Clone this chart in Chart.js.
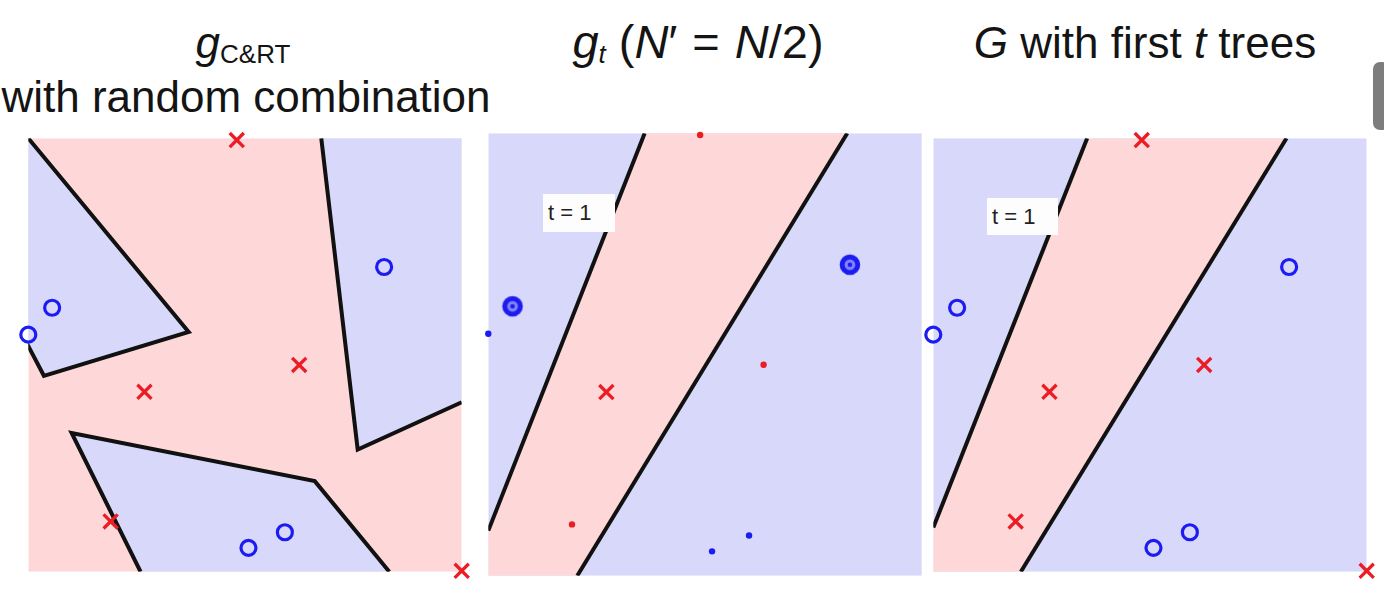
<!DOCTYPE html>
<html>
<head>
<meta charset="utf-8">
<script src="https://cdn.jsdelivr.net/npm/chart.js@4"></script>
<style>
  html, body { margin: 0; padding: 0; background: #fff; }
  body { width: 1384px; height: 596px; position: relative; overflow: hidden; }
  canvas { position: absolute; }
  .ttl {
    position: absolute; width: 600px; text-align: center; white-space: nowrap;
    font: 44px/44px "Liberation Sans", Arial, sans-serif; color: #141414;
  }
  .sub { font-size: 26px; position: relative; top: 5px; }
  .eq { margin: 0 2px; }
  .lbl {
    position: absolute; background: #fdfdfd; color: #222;
    font: 22px/38px "Liberation Sans", Arial, sans-serif; padding-left: 5px;
  }
  #bar { position: absolute; left: 1373px; top: 62px; width: 16px; height: 68px;
         border-radius: 7px; background: #7d7d7d; }
</style>
</head>
<body>
<div class="ttl" style="left:-57px;top:21px"><i>g</i><span class="sub">C&amp;RT</span></div>
<div class="ttl" style="left:-54px;top:75px">with random combination</div>
<div class="ttl" style="left:398px;top:18px;font-size:47px;line-height:47px"><i>g</i><span class="sub"><i>t</i></span> (<i>N</i>′ <span class="eq">=</span> <i>N</i>/2)</div>
<div class="ttl" style="left:845px;top:21px"><i>G</i> with first <i>t</i> trees</div>
<div id="bar"></div>

<canvas id="c1" width="460" height="460" style="left:15px;top:125px"></canvas>
<canvas id="c2" width="460" height="469" style="left:475px;top:120px"></canvas>
<canvas id="c3" width="460" height="460" style="left:920px;top:125px"></canvas>

<div class="lbl" style="left:543px;top:194px;width:67px;height:38px">t = 1</div>
<div class="lbl" style="left:987px;top:198px;width:66px;height:37px">t = 1</div>

<script>
// training points, unit square
const circleX = [0.821, 0.055, 0.000, 0.592, 0.508];
const circleY = [0.703, 0.609, 0.547, 0.091, 0.055];
const crossX = [0.481, 0.625, 0.268, 0.190, 1.000];
const crossY = [0.996, 0.477, 0.415, 0.116, 0.002];

// bootstrap copies of each point in the N/2 sample for g_t (null = not drawn)
const circleWeight = [2, 2, 0, 0, 0];
const crossWeight = [0, 0, 1, 0, null];

// C&RT with random combination: three blue pieces on pink
const cartAX = [-0.005, 0.036, 0.370, 0.000];
const cartAY = [0.530, 0.452, 0.553, 1.000];
const cartBX = [0.676, 0.760, 1.000, 1.000];
const cartBY = [1.000, 0.282, 0.391, 1.000];
const cartCX = [0.259, 0.100, 0.661, 0.833];
const cartCY = [0.000, 0.320, 0.209, 0.000];

// first tree: pink band between two cuts, blue outside
const cut1X = [0.000, 0.355];
const cut1Y = [0.102, 1.000];
const cut2X = [0.202, 0.815];
const cut2Y = [0.000, 1.000];
const bandX = [0.000, 0.355, 0.815, 0.202, 0.000];
const bandY = [0.102, 1.000, 1.000, 0.000, 0.000];

const squareX = [0, 1, 1, 0];
const squareY = [0, 0, 1, 1];

const PINK = '#fed8d9';
const LAV = '#d8d8fa';
const BLUE = '#1c1cf2';
const RED = '#ec1c24';

function pts(xs, ys) {
  return xs.map((x, i) => ({x: x, y: ys[i]}));
}

function region(xs, ys, color, order) {
  return {data: pts(xs, ys), fill: 'shape', backgroundColor: color,
          borderColor: 'rgba(0,0,0,0)', borderWidth: 0, pointRadius: 0, order: order};
}

function cut(xs, ys) {
  return {data: pts(xs, ys), fill: false, borderColor: '#111', borderWidth: 4,
          pointRadius: 0, order: 5, borderCapStyle: 'butt', borderJoinStyle: 'miter'};
}

function marks(data, style, color, radius, lw) {
  return {data: data, showLine: false, clip: false, order: 1, pointStyle: style,
          pointRadius: radius, pointBorderWidth: lw, borderWidth: lw,
          pointBorderColor: color, pointBackgroundColor: style === 'circle' && radius < 4 ? color : 'rgba(0,0,0,0)'};
}

// double ring marker for points picked twice
function doubleRing() {
  let c = document.createElement('canvas');
  c.width = 26; c.height = 26;
  let g = c.getContext('2d');
  g.fillStyle = 'rgba(28,28,242,0.45)';
  g.beginPath(); g.arc(13, 13, 5.5, 0, Math.PI * 2); g.fill();
  g.strokeStyle = BLUE; g.lineWidth = 5;
  g.beginPath(); g.arc(13, 13, 7.8, 0, Math.PI * 2); g.stroke();
  g.fillStyle = BLUE;
  g.beginPath(); g.arc(13, 13, 2.3, 0, Math.PI * 2); g.fill();
  return c;
}

function pick(xs, ys, w, want) {
  let out = [];
  xs.forEach((x, i) => { if (w[i] === want) out.push({x: x, y: ys[i]}); });
  return out;
}

function makeChart(id, datasets, xmax) {
  new Chart(document.getElementById(id), {
    type: 'line',
    data: {datasets: datasets},
    options: {
      responsive: false,
      animation: false,
      events: [],
      layout: {padding: 12},
      plugins: {legend: {display: false}, tooltip: {enabled: false}},
      scales: {
        x: {type: 'linear', min: 0, max: xmax, display: false},
        y: {type: 'linear', min: 0, max: 1, display: false}
      }
    }
  });
}

const allCircles = pts(circleX, circleY);
const allCrosses = pts(crossX, crossY);

// panel 1: C&RT
makeChart('c1', [
  region(squareX, squareY, PINK, 10),
  region(cartAX, cartAY, LAV, 9),
  region(cartBX, cartBY, LAV, 9),
  region(cartCX, cartCY, LAV, 9),
  cut(cartAX, cartAY),
  cut(cartBX.slice(0, 3), cartBY.slice(0, 3)),
  cut(cartCX, cartCY),
  marks(allCircles, 'circle', BLUE, 7.5, 3.2),
  marks(allCrosses, 'crossRot', RED, 10, 3.3)
], 1);

// panel 2: g_t on its bootstrap sample
makeChart('c2', [
  region(squareX, squareY, LAV, 10),
  region(bandX, bandY, PINK, 9),
  cut(cut1X, cut1Y),
  cut(cut2X, cut2Y),
  marks(pick(circleX, circleY, circleWeight, 2), doubleRing(), BLUE, 10, 0),
  marks(pick(circleX, circleY, circleWeight, 1), 'circle', BLUE, 7.5, 3.2),
  marks(pick(circleX, circleY, circleWeight, 0), 'circle', BLUE, 3.2, 0),
  marks(pick(crossX, crossY, crossWeight, 1), 'crossRot', RED, 10, 3.3),
  marks(pick(crossX, crossY, crossWeight, 0), 'circle', RED, 3.2, 0)
], 0.984);

// panel 3: G with first t trees
makeChart('c3', [
  region(squareX, squareY, LAV, 10),
  region(bandX, bandY, PINK, 9),
  cut(cut1X, cut1Y),
  cut(cut2X, cut2Y),
  marks(allCircles, 'circle', BLUE, 7.5, 3.2),
  marks(allCrosses, 'crossRot', RED, 10, 3.3)
], 1);
</script>
</body>
</html>
